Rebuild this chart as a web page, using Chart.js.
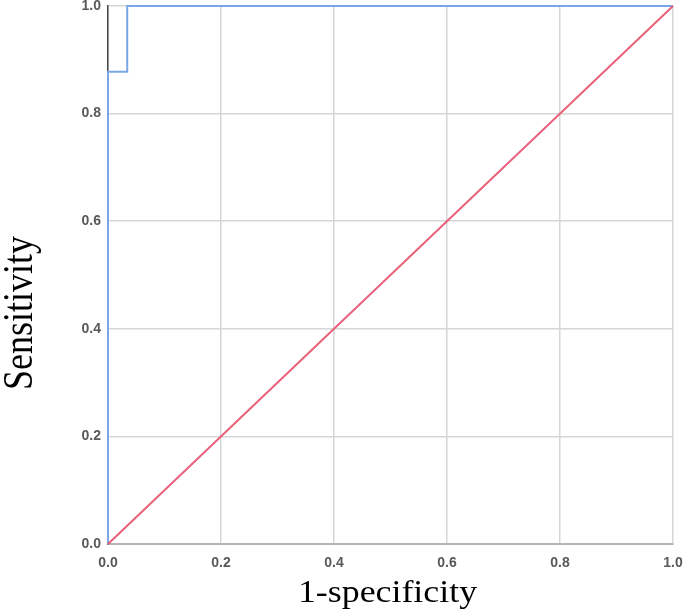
<!DOCTYPE html>
<html>
<head>
<meta charset="utf-8">
<script src="https://cdn.jsdelivr.net/npm/chart.js@4.4.1/dist/chart.umd.min.js"></script>
<style>
  html, body { margin: 0; padding: 0; background: #fff; }
  #wrap { width: 685px; height: 616px; }
</style>
</head>
<body>
<div id="wrap"><canvas id="rocChart"></canvas></div>
<script>
// ROC curve (step)
const rocX = [0, 0, 0.034, 0.034, 1];
const rocY = [0, 0.878, 0.878, 1, 1];

// Reference diagonal
const refX = [0, 1];
const refY = [0, 1];

// Axis ticks and titles
const tickValues = [0, 0.2, 0.4, 0.6, 0.8, 1.0];
const xTitle = '1-specificity';
const yTitle = 'Sensitivity';

const toPoints = (xs, ys) => xs.map((x, i) => ({ x: x, y: ys[i] }));

const tickFont = { family: 'Arial, "Liberation Sans", sans-serif', size: 14, weight: 'bold' };
const serif = '"Times New Roman", "Liberation Serif", serif';

// The source image is stretched sideways, so the titles are drawn a bit wider than tall
const axisTitles = {
    id: 'axisTitles',
    afterDraw(chart) {
        const { ctx, chartArea } = chart;
        ctx.save();
        ctx.fillStyle = '#000';
        ctx.textAlign = 'center';
        ctx.textBaseline = 'alphabetic';

        // x title under the axis
        ctx.save();
        ctx.translate((chartArea.left + chartArea.right) / 2 - 3, chartArea.bottom + 58);
        ctx.scale(1.12, 1);
        ctx.font = '32px ' + serif;
        ctx.fillText(xTitle, 0, 0);
        ctx.restore();

        // y title, rotated
        ctx.save();
        ctx.translate(32, (chartArea.top + chartArea.bottom) / 2 + 38);
        ctx.scale(1.2, 1);
        ctx.rotate(-Math.PI / 2);
        ctx.font = '36px ' + serif;
        ctx.fillText(yTitle, 0, 0);
        ctx.restore();

        ctx.restore();
    }
};

const ctx = document.getElementById('rocChart').getContext('2d');

new Chart(ctx, {
    type: 'line',
    data: {
        datasets: [
            {
                label: 'Reference',
                data: toPoints(refX, refY),
                borderColor: '#e8607a',
                borderWidth: 2,
                pointRadius: 0,
                tension: 0,
                clip: 6
            },
            {
                label: 'ROC',
                data: toPoints(rocX, rocY),
                borderColor: '#7aa6e6',
                borderWidth: 2,
                pointRadius: 0,
                tension: 0,
                clip: 6
            }
        ]
    },
    options: {
        responsive: true,
        maintainAspectRatio: false,
        animation: false,
        layout: { padding: { top: 6, right: 12, left: 0, bottom: 0 } },
        plugins: {
            legend: { display: false },
            tooltip: { enabled: false }
        },
        scales: {
            x: {
                type: 'linear',
                min: 0,
                max: 1,
                afterBuildTicks: (axis) => { axis.ticks = tickValues.map(v => ({ value: v })); },
                afterFit: (axis) => {
                    axis.height = 72;
                    axis.paddingLeft = 0;
                    axis.paddingRight = 0;
                },
                grid: { color: '#d6d6d6', lineWidth: 1.5, drawTicks: false },
                border: { color: '#b5b5b5', width: 2 },
                ticks: {
                    font: tickFont,
                    color: '#595959',
                    padding: 11,
                    maxRotation: 0,
                    callback: (v) => Number(v).toFixed(1)
                }
            },
            y: {
                type: 'linear',
                min: 0,
                max: 1,
                afterBuildTicks: (axis) => { axis.ticks = tickValues.map(v => ({ value: v })); },
                afterFit: (axis) => {
                    axis.width = 108;
                    axis.paddingTop = 0;
                    axis.paddingBottom = 0;
                },
                grid: { color: '#d6d6d6', lineWidth: 1.5, drawTicks: false },
                border: { color: '#444', width: 1.5 },
                ticks: {
                    font: tickFont,
                    color: '#595959',
                    padding: 7,
                    callback: (v) => Number(v).toFixed(1)
                }
            }
        }
    },
    plugins: [axisTitles]
});
</script>
</body>
</html>
